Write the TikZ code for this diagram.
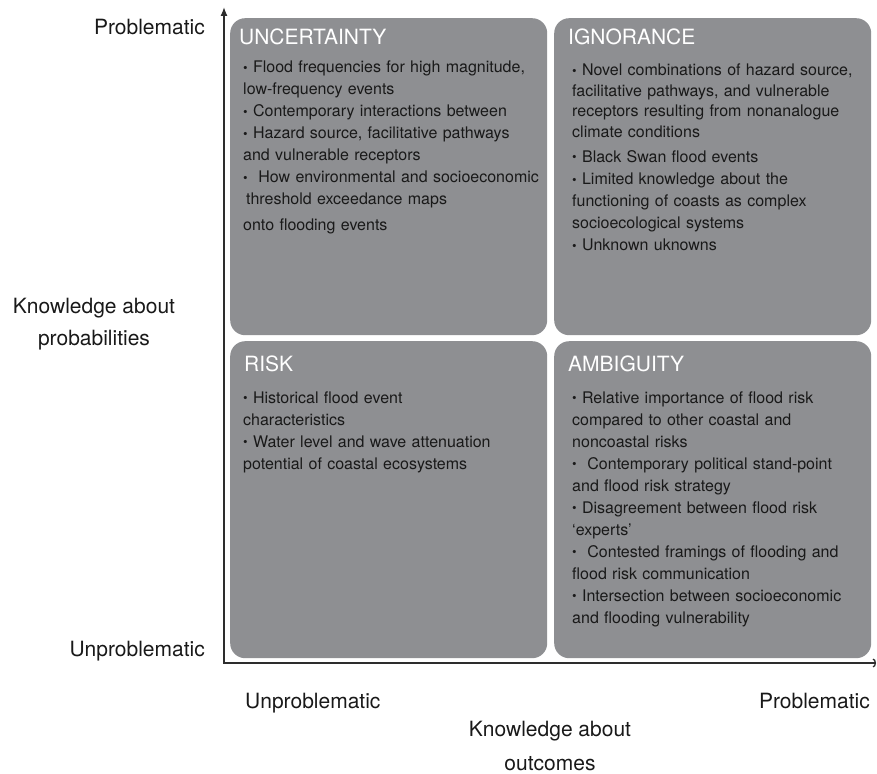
\documentclass[tikz,border=0pt]{standalone}
\usepackage{fontspec}
\setmainfont{TeX Gyre Heros}
\usepackage{xcolor}
\usetikzlibrary{arrows.meta}
\usetikzlibrary{positioning}

\definecolor{boxgray}{RGB}{142,143,146}
\definecolor{axisgray}{RGB}{45,45,45}
\definecolor{textdark}{RGB}{25,25,25}
\newcommand{\itm}{{\fontsize{13}{13}\selectfont\raisebox{0.5pt}{\textbullet}}\ }

\begin{document}
\begin{tikzpicture}[x=1pt, y=-1pt]
\tikzset{QuadStyle/.style = {draw=none, fill=boxgray, rounded corners=15pt, minimum width=317pt, minimum height=317pt, anchor=north west, inner sep=0pt}}
\tikzset{TitleStyle/.style = {anchor=base west, inner sep=0pt, text=white, font=\fontsize{21}{22}\selectfont}}
\tikzset{ItemStyle/.style = {anchor=base west, inner sep=0pt, text=textdark, text width=305pt, align=left, font=\fontsize{16}{22}\selectfont}}
\tikzset{AxisLabel/.style = {inner sep=0pt, text=textdark, font=\fontsize{21}{32}\selectfont}}
\tikzset{AxisStyle/.style = {draw=axisgray, line width=1.3pt}}
  \useasboundingbox (0,0) rectangle (877,773);

  \node[QuadStyle] (unc) at (230,18) {};
  \node[QuadStyle] (ign) at (554,18) {};
  \node[QuadStyle] (risk) at (230,341) {};
  \node[QuadStyle] (amb) at (554,341) {};

  \node[TitleStyle] (uncT) at (239,45) {UNCERTAINTY};
  \node[TitleStyle] (ignT) at (568,45) {IGNORANCE};
  \node[TitleStyle] (riskT) at (244,371) {RISK};
  \node[TitleStyle] (ambT) at (568,371) {AMBIGUITY};

  \node[ItemStyle] (uncL) at (243,73) {\itm Flood frequencies for high magnitude,\\
    low-frequency events\\
    \itm Contemporary interactions between\\
    \itm Hazard source, facilitative pathways\\
    and vulnerable receptors\\
    \itm\ How environmental and socioeconomic\\
    \hspace*{3pt}threshold exceedance maps\\[4pt]
    onto flooding events};
  \node[ItemStyle] (ignL) at (572,76) {\itm Novel combinations of hazard source,\\[-1.5pt]
    facilitative pathways, and vulnerable\\[-1.5pt]
    receptors resulting from nonanalogue\\[-1.5pt]
    climate conditions\\[3pt]
    \itm Black Swan flood events\\
    \itm Limited knowledge about the\\
    functioning of coasts as complex\\
    socioecological systems\\
    \itm Unknown uknowns};
  \node[ItemStyle] (riskL) at (243,403) {\itm Historical flood event\\
    characteristics\\
    \itm Water level and wave attenuation\\
    potential of coastal ecosystems};
  \node[ItemStyle] (ambL) at (572,403) {\itm Relative importance of flood risk\\
    compared to other coastal and\\
    noncoastal risks\\
    \itm\ Contemporary political stand-point\\
    and flood risk strategy\\
    \itm Disagreement between flood risk\\
    ‘experts’\\
    \itm\ Contested framings of flooding and\\
    flood risk communication\\
    \itm Intersection between socioeconomic\\
    and flooding vulnerability};

  \node[AxisLabel, anchor=base east] (yhigh) at (205,35) {Problematic};
  \node[AxisLabel, anchor=base, align=center] (ytitle) at (94,345) {Knowledge about\\probabilities};
  \node[AxisLabel, anchor=base east] (ylow) at (205,656) {Unproblematic};
  \node[AxisLabel, anchor=base west] (xlow) at (245,708) {Unproblematic};
  \node[AxisLabel, anchor=base east] (xhigh) at (870,708) {Problematic};
  \node[AxisLabel, anchor=base, align=center, font=\fontsize{21}{34}\selectfont] (xtitle) at (550,770) {Knowledge about\\outcomes};

  \coordinate (origin) at (224,663);
  \coordinate (ytip) at (224,7);
  \coordinate (xtip) at (876,663);
  \draw[AxisStyle, {Latex[length=9pt,width=7pt]}-{Arc Barb[length=3pt,width=9pt]}] (ytip) -- (origin) -- (xtip);

\end{tikzpicture}
\end{document}
